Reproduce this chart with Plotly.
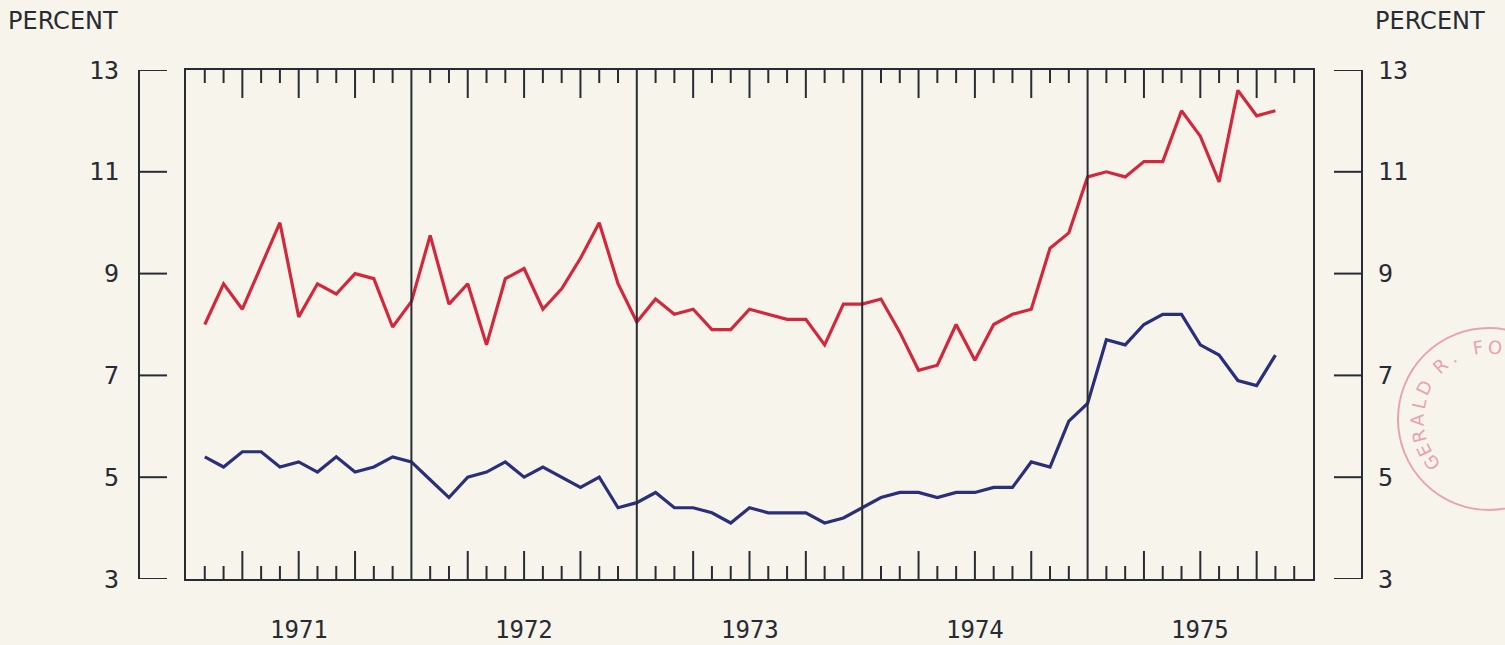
import plotly.graph_objects as go
import math

# ---------------- data ----------------
years = [1971, 1972, 1973, 1974, 1975]
year_labels = ["1971", "1972", "1973", "1974", "1975"]
n_months = 58  # Jan 1971 .. Oct 1975

red_series = [
    8.0, 8.8, 8.3, 9.15, 10.0, 8.15, 8.8, 8.6, 9.0, 8.9, 7.95, 8.45,
    9.75, 8.4, 8.8, 7.6, 8.9, 9.1, 8.3, 8.7, 9.3, 10.0, 8.8, 8.05,
    8.5, 8.2, 8.3, 7.9, 7.9, 8.3, 8.2, 8.1, 8.1, 7.6, 8.4, 8.4,
    8.5, 7.85, 7.1, 7.2, 8.0, 7.3, 8.0, 8.2, 8.3, 9.5, 9.8, 10.9,
    11.0, 10.9, 11.2, 11.2, 12.2, 11.7, 10.8, 12.6, 12.1, 12.2,
]
blue_series = [
    5.4, 5.2, 5.5, 5.5, 5.2, 5.3, 5.1, 5.4, 5.1, 5.2, 5.4, 5.3,
    4.95, 4.6, 5.0, 5.1, 5.3, 5.0, 5.2, 5.0, 4.8, 5.0, 4.4, 4.5,
    4.7, 4.4, 4.4, 4.3, 4.1, 4.4, 4.3, 4.3, 4.3, 4.1, 4.2, 4.4,
    4.6, 4.7, 4.7, 4.6, 4.7, 4.7, 4.8, 4.8, 5.3, 5.2, 6.1, 6.45,
    7.7, 7.6, 8.0, 8.2, 8.2, 7.6, 7.4, 6.9, 6.8, 7.4,
]
y_ticks = [3, 5, 7, 9, 11, 13]
y_tick_labels = ["3", "5", "7", "9", "11", "13"]
axis_title = "PERCENT"
stamp_text = "GERALD R. FO"

# ---------------- styling ----------------
W, H = 1505, 645
ML, MR, MT, MB = 186, 192, 70, 66
PW = W - ML - MR
PH = H - MT - MB
BG = "#f7f4eb"
INK = "#272b33"
RED = "#d3283b"
BLUE = "#2a2f7c"
PINK = "#eaa2ad"
NUM_FONT = "DejaVu Sans Mono"
TXT_FONT = "DejaVu Sans"


def px_x(px):
    return (px - ML) / PW


def px_y(py):
    return (H - MB - py) / PH


x_vals = list(range(1, n_months + 1))
n_total = 12 * len(years)

fig = go.Figure()
fig.add_trace(go.Scatter(x=x_vals, y=red_series, mode="lines",
                         line=dict(color=RED, width=3.2), hoverinfo="skip"))
fig.add_trace(go.Scatter(x=x_vals, y=blue_series, mode="lines",
                         line=dict(color=BLUE, width=3.2), hoverinfo="skip"))

shapes = []
# year separators
for i in range(1, len(years)):
    shapes.append(dict(type="line", xref="x", yref="paper", x0=12 * i, x1=12 * i,
                       y0=0, y1=1, line=dict(color=INK, width=2)))
# month ticks on top and bottom edges
for k in range(1, n_total):
    if k % 12 == 0:
        continue
    L = 28 if k % 3 == 0 else 13
    shapes.append(dict(type="line", xref="x", yref="paper", x0=k, x1=k,
                       y0=0, y1=L / PH, line=dict(color=INK, width=2)))
    shapes.append(dict(type="line", xref="x", yref="paper", x0=k, x1=k,
                       y0=1, y1=1 - L / PH, line=dict(color=INK, width=2)))

# detached left and right value axes
lx, lt = px_x(139), px_x(167)
rx, rt = px_x(1362), px_x(1334)
shapes.append(dict(type="line", xref="paper", yref="y", x0=lx, x1=lx,
                   y0=y_ticks[0], y1=y_ticks[-1], line=dict(color=INK, width=2)))
shapes.append(dict(type="line", xref="paper", yref="y", x0=rx, x1=rx,
                   y0=y_ticks[0], y1=y_ticks[-1], line=dict(color=INK, width=2)))
annotations = []
for v, lab in zip(y_ticks, y_tick_labels):
    shapes.append(dict(type="line", xref="paper", yref="y", x0=lx, x1=lt,
                       y0=v, y1=v, line=dict(color=INK, width=2)))
    shapes.append(dict(type="line", xref="paper", yref="y", x0=rx, x1=rt,
                       y0=v, y1=v, line=dict(color=INK, width=2)))
    annotations.append(dict(xref="paper", yref="y", x=px_x(121), y=v, text=lab,
                            showarrow=False, xanchor="right", yanchor="middle",
                            font=dict(family=NUM_FONT, size=25, color=INK)))
    annotations.append(dict(xref="paper", yref="y", x=px_x(1376), y=v, text=lab,
                            showarrow=False, xanchor="left", yanchor="middle",
                            font=dict(family=NUM_FONT, size=25, color=INK)))

# year labels
for i, lab in enumerate(year_labels):
    annotations.append(dict(xref="x", yref="paper", x=12 * i + 6, y=px_y(630), text=lab,
                            showarrow=False, xanchor="center", yanchor="middle",
                            font=dict(family=NUM_FONT, size=24, color=INK)))

# PERCENT titles
annotations.append(dict(xref="paper", yref="paper", x=px_x(6), y=px_y(21), text=axis_title,
                        showarrow=False, xanchor="left", yanchor="middle",
                        font=dict(family=TXT_FONT, size=24, color=INK)))
annotations.append(dict(xref="paper", yref="paper", x=px_x(1487), y=px_y(21), text=axis_title,
                        showarrow=False, xanchor="right", yanchor="middle",
                        font=dict(family=TXT_FONT, size=24, color=INK)))

# library stamp (decoration at right edge)
cx, cy, R = 1489, 419, 91
shapes.append(dict(type="circle", xref="paper", yref="paper",
                   x0=px_x(cx - R), x1=px_x(cx + R), y0=px_y(cy + R), y1=px_y(cy - R),
                   line=dict(color=PINK, width=2)))
letters = [c for c in stamp_text if c != " "]
ang = [217, 206, 194, 181, 168, 154, 132, 120, 99, 85]
for c, a in zip(letters, ang):
    rr = 72
    px = cx + rr * math.cos(math.radians(a))
    py = cy - rr * math.sin(math.radians(a))
    annotations.append(dict(xref="paper", yref="paper", x=px_x(px), y=px_y(py), text=c,
                            showarrow=False, xanchor="center", yanchor="middle",
                            textangle=90 - a,
                            font=dict(family=TXT_FONT, size=18, color=PINK)))

fig.update_layout(
    width=W, height=H,
    margin=dict(l=ML, r=MR, t=MT, b=MB),
    paper_bgcolor=BG, plot_bgcolor=BG,
    showlegend=False,
    shapes=shapes, annotations=annotations,
    xaxis=dict(range=[0, n_total], showgrid=False, zeroline=False, showticklabels=False,
               ticks="", showline=True, mirror=True, linecolor=INK, linewidth=2),
    yaxis=dict(range=[y_ticks[0], y_ticks[-1]], showgrid=False, zeroline=False,
               showticklabels=False, ticks="", showline=True, mirror=True,
               linecolor=INK, linewidth=2),
)

fig.write_html(
    "out.html",
    config={"displayModeBar": False},
    post_script="document.body.style.margin='0';document.body.style.overflow='hidden';"
                "document.body.style.background='" + BG + "';",
)
